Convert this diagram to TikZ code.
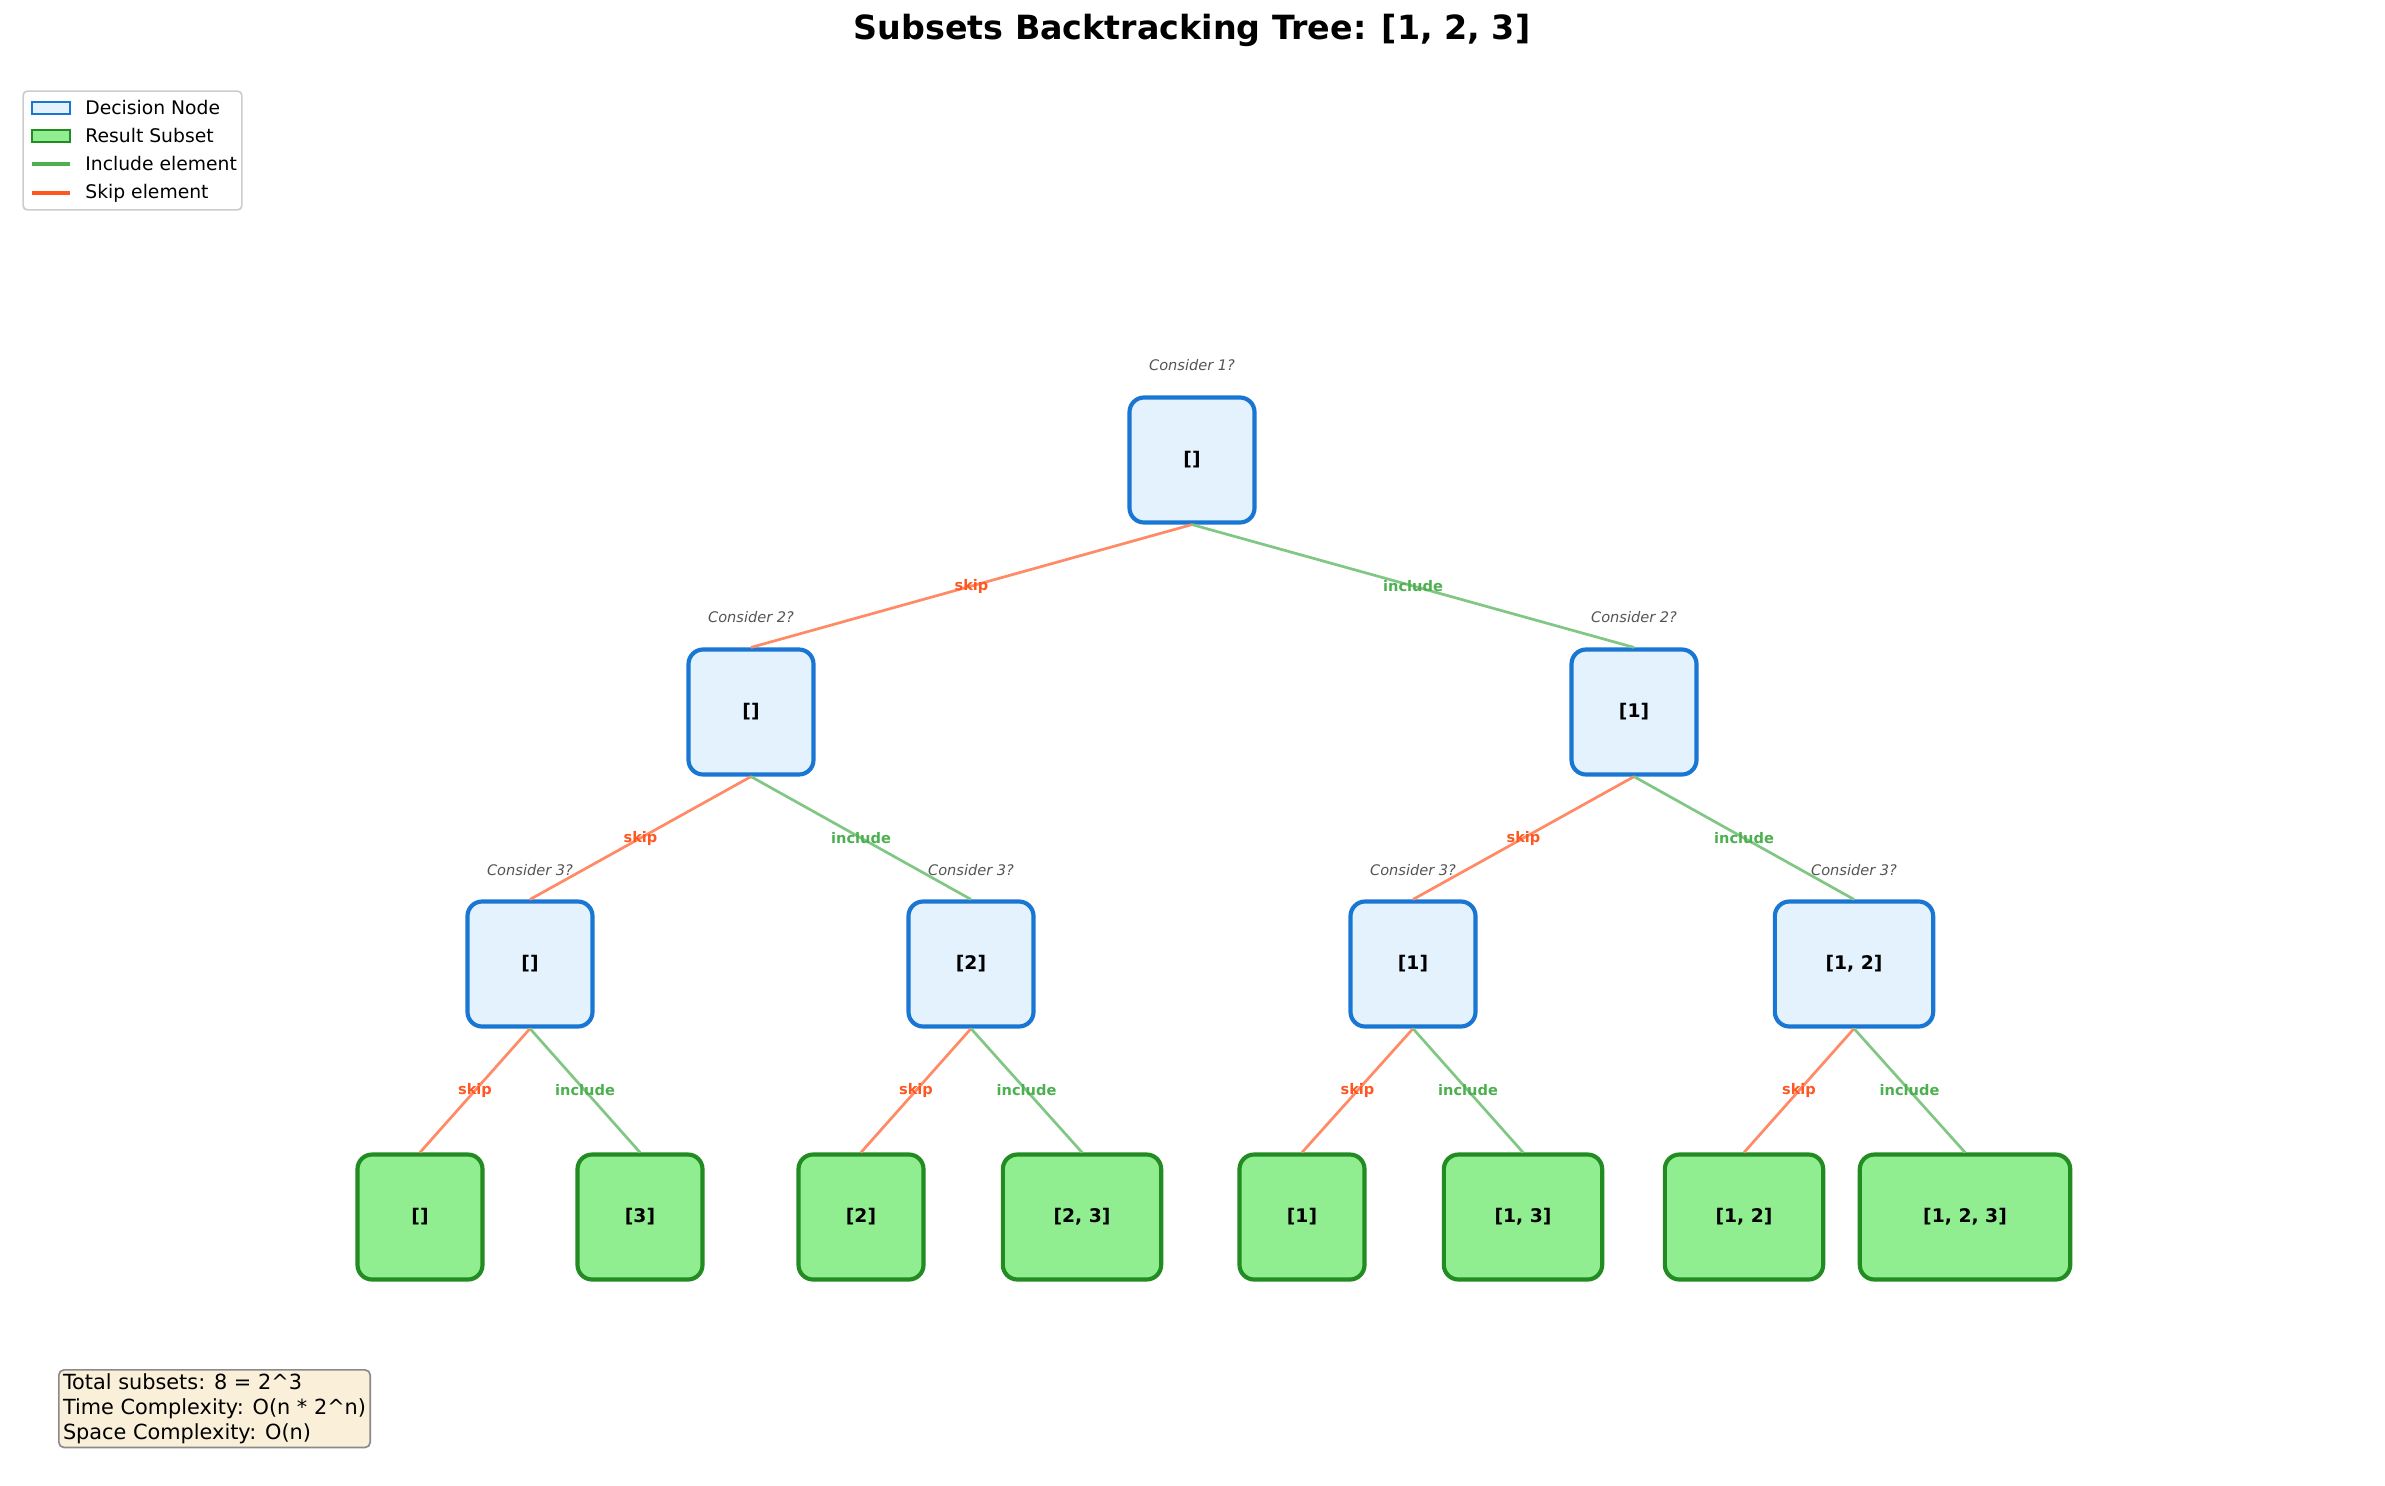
\documentclass[tikz,border=0pt]{standalone}
\usepackage{fontspec}
\setmainfont{DejaVu Sans}
\definecolor{decf}{HTML}{E3F2FD}
\definecolor{decb}{HTML}{1976D2}
\definecolor{resf}{HTML}{90EE90}
\definecolor{resb}{HTML}{228B22}
\definecolor{skipline}{HTML}{FF8A65}
\definecolor{incline}{HTML}{81C784}
\definecolor{skiptext}{HTML}{FF5722}
\definecolor{inctext}{HTML}{4CAF50}
\definecolor{constext}{HTML}{555555}
\definecolor{infof}{HTML}{FAEFD9}
\definecolor{infob}{HTML}{8A8A8A}
\definecolor{legb}{HTML}{CCCCCC}
\tikzset{
  box/.style={rounded corners=7pt, line width=2pt, minimum height=60pt, inner sep=0pt,
    font=\fontsize{9}{11}\selectfont\bfseries},
  dec/.style={box, draw=decb, fill=decf, minimum width=60pt},
  res/.style={box, draw=resb, fill=resf, minimum width=60pt},
  wide/.style={minimum width=76pt},
  wider/.style={minimum width=101pt},
  skipe/.style={draw=skipline, line width=1.3pt},
  ince/.style={draw=incline, line width=1.3pt},
  skipl/.style={text=skiptext, font=\fontsize{7}{8}\selectfont\bfseries, inner sep=0pt},
  incl/.style={text=inctext, font=\fontsize{7}{8}\selectfont\bfseries, inner sep=0pt},
  cons/.style={text=constext, font=\fontsize{7}{8}\selectfont\itshape, inner sep=0pt},
  legtext/.style={anchor=west, font=\fontsize{9}{11}\selectfont, inner sep=0pt},
}
\begin{document}
\begin{tikzpicture}[x=0.48pt,y=-0.48pt]
\useasboundingbox (0,0) rectangle (2385,1485);
% title
\node (title) at (1192,30) {\fontsize{16}{19}\selectfont\bfseries Subsets Backtracking Tree: [1, 2, 3]};

% nodes
\node[dec] (r) at (1192,460) {[]};
\node[dec] (a) at (751,712) {[]};
\node[dec] (b) at (1634,712) {[1]};
\node[dec] (aa) at (530,964) {[]};
\node[dec] (ab) at (971,964) {[2]};
\node[dec] (ba) at (1413,964) {[1]};
\node[dec,wide] (bb) at (1854,964) {[1, 2]};
\node[res] (l1) at (420,1217) {[]};
\node[res] (l2) at (640,1217) {[3]};
\node[res] (l3) at (861,1217) {[2]};
\node[res,wide] (l4) at (1082,1217) {[2, 3]};
\node[res] (l5) at (1302,1217) {[1]};
\node[res,wide] (l6) at (1523,1217) {[1, 3]};
\node[res,wide] (l7) at (1744,1217) {[1, 2]};
\node[res,wider] (l8) at (1965,1217) {[1, 2, 3]};

% consider labels
\node[cons] (c0) at (1192,365) {Consider 1?};
\node[cons] (c1) at (751,617) {Consider 2?};
\node[cons] (c2) at (1634,617) {Consider 2?};
\node[cons] (c3) at (530,870) {Consider 3?};
\node[cons] (c4) at (971,870) {Consider 3?};
\node[cons] (c5) at (1413,870) {Consider 3?};
\node[cons] (c6) at (1854,870) {Consider 3?};

% edges
\draw[skipe] (r.south) -- node[skipl]{skip} (a.north);
\draw[ince] (r.south) -- node[incl]{include} (b.north);
\draw[skipe] (a.south) -- node[skipl]{skip} (aa.north);
\draw[ince] (a.south) -- node[incl]{include} (ab.north);
\draw[skipe] (b.south) -- node[skipl]{skip} (ba.north);
\draw[ince] (b.south) -- node[incl]{include} (bb.north);
\draw[skipe] (aa.south) -- node[skipl]{skip} (l1.north);
\draw[ince] (aa.south) -- node[incl]{include} (l2.north);
\draw[skipe] (ab.south) -- node[skipl]{skip} (l3.north);
\draw[ince] (ab.south) -- node[incl]{include} (l4.north);
\draw[skipe] (ba.south) -- node[skipl]{skip} (l5.north);
\draw[ince] (ba.south) -- node[incl]{include} (l6.north);
\draw[skipe] (bb.south) -- node[skipl]{skip} (l7.north);
\draw[ince] (bb.south) -- node[incl]{include} (l8.north);

% legend
\node[draw=legb, fill=white, line width=0.8pt, rounded corners=2pt, minimum width=105pt, minimum height=57pt, inner sep=0pt] (legend) at (132.5,150.5) {};
\node[draw=decb, fill=decf, line width=1pt, minimum width=18pt, minimum height=6pt, inner sep=0pt] (p1) at (51,108) {};
\node[legtext] (t1) at (85,108) {Decision Node};
\node[draw=resb, fill=resf, line width=1pt, minimum width=18pt, minimum height=6pt, inner sep=0pt] (p2) at (51,136) {};
\node[legtext] (t2) at (85,136) {Result Subset};
\coordinate (i1) at (32,164); \coordinate (i2) at (70,164);
\draw[draw=inctext, line width=1.5pt] (i1) -- (i2);
\node[legtext] (t3) at (85,164) {Include element};
\coordinate (s1) at (32,193); \coordinate (s2) at (70,193);
\draw[draw=skiptext, line width=1.5pt] (s1) -- (s2);
\node[legtext] (t4) at (85,193) {Skip element};

% info box
\node[draw=infob, fill=infof, line width=0.8pt, rounded corners=2.5pt, anchor=north west, align=left,
  inner xsep=2pt, inner ysep=2pt, font=\fontsize{10}{11.8}\selectfont] (info) at (58,1369)
  {Total subsets: 8 = 2\string^3\\Time Complexity: O(n * 2\string^n)\\Space Complexity: O(n)};
\end{tikzpicture}
\end{document}
